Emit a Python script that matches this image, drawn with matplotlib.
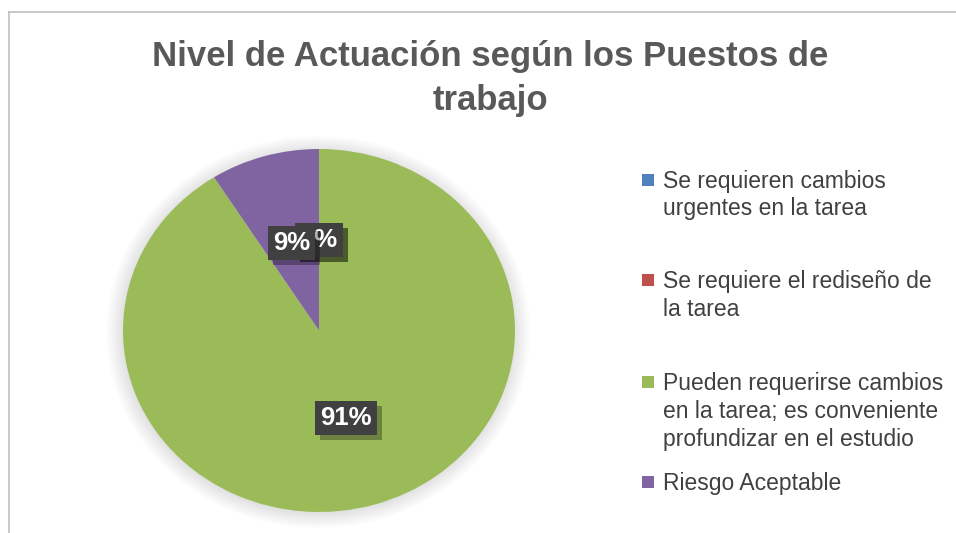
import matplotlib
matplotlib.use("Agg")
import matplotlib.pyplot as plt
from matplotlib.patches import Rectangle, Ellipse
import matplotlib.transforms as mtransforms
import numpy as np

plt.rcParams['font.family'] = ['Liberation Sans', 'DejaVu Sans']

title = "Nivel de Actuación según los Puestos de\ntrabajo"
categories = [
    "Se requieren cambios\nurgentes en la tarea",
    "Se requiere el rediseño de\nla tarea",
    "Pueden requerirse cambios\nen la tarea; es conveniente\nprofundizar en el estudio",
    "Riesgo Aceptable",
]
values = [0, 0, 91, 9]
colors = ["#4F81BD", "#C0504D", "#9BBB59", "#8064A2"]

W, H = 956, 533
fig = plt.figure(figsize=(W / 100, H / 100), dpi=100)
fig.patch.set_facecolor("white")

def fx(px):
    return px / W

def fy(py):
    return 1 - py / H

# chart frame
fig.add_artist(plt.Line2D([fx(8.5), fx(8.5)], [fy(11.5), 0], color="#BFBFBF", lw=1.2))
fig.add_artist(plt.Line2D([fx(8.5), 1], [fy(11.5), fy(11.5)], color="#BFBFBF", lw=1.2))

# pie axes (stretched, as in the reference): x 123-515, y 149-512
x0, x1, y0, y1 = 123, 515, 149, 512
ax = fig.add_axes([fx(x0), fy(y1), (x1 - x0) / W, (y1 - y0) / H])

wedges, _ = ax.pie(values, colors=colors, startangle=90, counterclock=False,
                   radius=1, wedgeprops=dict(linewidth=0))
ax.set_xlim(-1, 1)
ax.set_ylim(-1, 1)
ax.set_aspect("auto")
ax.axis("off")

# soft shadow halo
for k in range(10):
    s = 1.0 + 0.009 * k
    ax.add_patch(Ellipse((-0.004, -0.008), 2 * s, 2 * s, color="#000000",
                         alpha=0.012, zorder=0, lw=0, clip_on=False))

total = sum(values)
labr = 0.5
label_pos = {}
for i, w in enumerate(wedges):
    mid = np.deg2rad((w.theta1 + w.theta2) / 2)
    label_pos[i] = (labr * np.cos(mid), labr * np.sin(mid))

# draw zero labels first, then 9%, then 91%
draw_order = [0, 1, 3, 2]
for z, i in enumerate(draw_order):
    x, y = label_pos[i]
    pct = f"{round(100 * values[i] / total)}%"
    sh = mtransforms.offset_copy(ax.transData, fig=fig, x=5, y=-5, units="dots")
    ax.text(x, y, pct, transform=sh, ha="center", va="center", fontsize=18.5,
            fontweight="bold", color=(0, 0, 0, 0),
            bbox=dict(boxstyle="square,pad=0.2", fc="#000000", ec="none", alpha=0.3),
            zorder=5 + 2 * z)
    ax.text(x, y, pct, ha="center", va="center", fontsize=18.5, fontweight="bold",
            color="white",
            bbox=dict(boxstyle="square,pad=0.2", fc="#404040", ec="none"),
            zorder=6 + 2 * z)

# title
tl = title.split("\n")
fig.text(fx(490), fy(66), tl[0], ha="center", va="baseline",
         fontsize=25, fontweight="bold", color="#595959")
fig.text(fx(490), fy(110), tl[1], ha="center", va="baseline",
         fontsize=25, fontweight="bold", color="#595959")

# legend
baselines = [[188, 215.5], [288, 316], [390, 418, 446], [490]]
for lab, col, bls in zip(categories, colors, baselines):
    lines = lab.split("\n")
    fig.add_artist(Rectangle((fx(642), fy(bls[0] - 2)), 12 / W, 12 / H,
                             transform=fig.transFigure, fc=col, ec="none"))
    for line, b in zip(lines, bls):
        fig.text(fx(663), fy(b), line, ha="left", va="baseline", fontsize=16.5,
                 color="#404040")

fig.savefig("out.png", dpi=100)
